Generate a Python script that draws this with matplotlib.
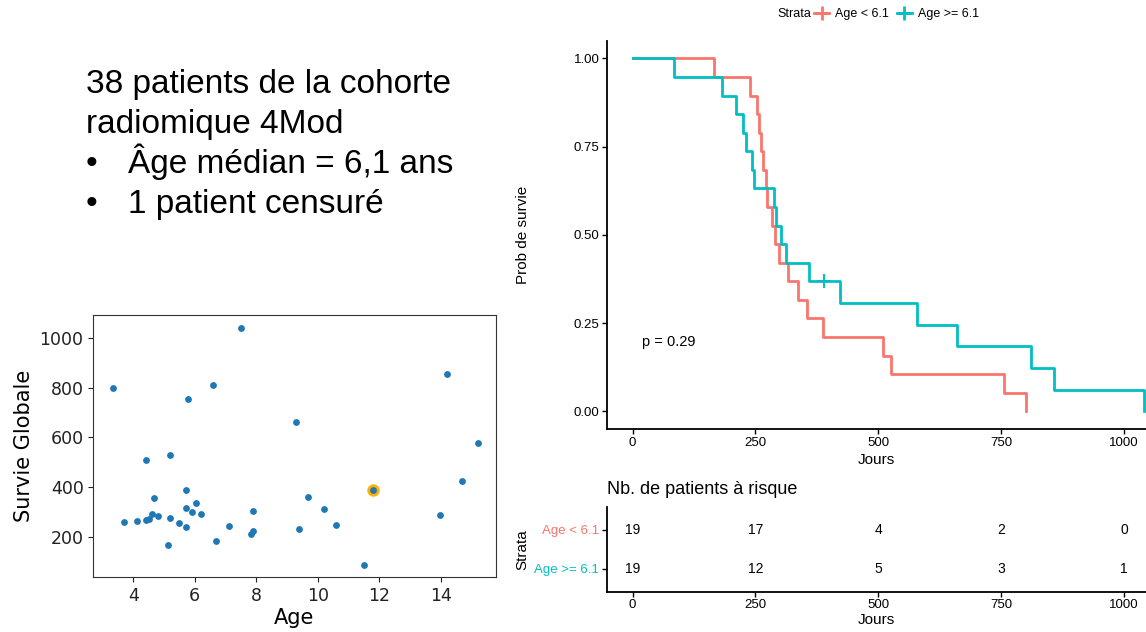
import numpy as np
import matplotlib.pyplot as plt
from matplotlib.lines import Line2D

# ---------------- data ----------------
age = [3.33, 3.71, 4.11, 4.40, 4.41, 4.50, 4.61, 4.69, 4.81, 5.12,
       5.19, 5.19, 5.50, 5.70, 5.70, 5.70, 5.79, 5.90, 6.03,
       6.21, 6.60, 6.68, 7.11, 7.50, 7.82, 7.89, 7.89, 9.29, 9.38,
       9.69, 10.19, 10.59, 11.49, 11.81, 13.99, 14.20, 14.69, 15.20]
survie = [800, 258, 262, 265, 510, 271, 289, 356, 283, 166,
          527, 273, 254, 388, 317, 239, 755, 298, 336,
          291, 810, 182, 243, 1040, 211, 224, 303, 660, 230,
          360, 313, 248, 84, 389, 287, 857, 422, 578]
# 1 = deces, 0 = censure
event = [1] * 33 + [0] + [1] * 4

age_median = 6.1
risk_times = [0, 250, 500, 750, 1000]
risk_low = [19, 17, 4, 2, 0]
risk_high = [19, 12, 5, 3, 1]
pval_label = "p = 0.29"

intro_lines = ["38 patients de la cohorte", "radiomique 4Mod"]
bullets = ["Âge médian = 6,1 ans", "1 patient censuré"]

RED = '#F8766D'
TEAL = '#00BFC4'
SANS = ['Liberation Sans', 'DejaVu Sans']

age = np.array(age)
survie = np.array(survie)
event = np.array(event)


def kaplan_meier(t, e):
    order = np.argsort(t, kind='stable')
    t, e = t[order], e[order]
    n = len(t)
    xs, ys = [0.0], [1.0]
    s = 1.0
    cens_x, cens_y = [], []
    for i, (ti, ei) in enumerate(zip(t, e)):
        at_risk = n - i
        if ei:
            s *= (at_risk - 1) / at_risk
            xs.append(ti)
            ys.append(s)
        else:
            cens_x.append(ti)
            cens_y.append(s)
    return xs, ys, cens_x, cens_y


W, H = 1146, 632
fig = plt.figure(figsize=(W / 100, H / 100), dpi=100)

# ---------------- slide text ----------------
base = [93, 133, 173, 213]
for i, line in enumerate(intro_lines):
    fig.text(86 / W, 1 - base[i] / H, line, fontsize=24, family=SANS, va='baseline')
for j, line in enumerate(bullets):
    y = 1 - base[2 + j] / H
    fig.text(86 / W, y, "•", fontsize=24, family=SANS, va='baseline')
    fig.text(128 / W, y, line, fontsize=24, family=SANS, va='baseline')

# ---------------- scatter ----------------
ax_sc = fig.add_axes([93.3 / W, 1 - 577 / H, (495.7 - 93.3) / W, (577 - 315.3) / H])
cens = event == 0
ax_sc.scatter(age[cens], survie[cens], s=80, color='#FFB000', zorder=2, linewidths=0)
ax_sc.scatter(age, survie, s=24, color='#1f77b4', zorder=3, linewidths=0)
ax_sc.set_xlim(2.70, 15.79)
ax_sc.set_ylim(37, 1092)
ax_sc.set_xticks([4, 6, 8, 10, 12, 14])
ax_sc.set_yticks([200, 400, 600, 800, 1000])
ax_sc.tick_params(labelsize=12.5, colors='#222222')
ax_sc.set_xlabel("Age", fontsize=15, labelpad=2)
ax_sc.set_ylabel("Survie Globale", fontsize=15, labelpad=4)
for sp in ax_sc.spines.values():
    sp.set_color('#333333')

# ---------------- Kaplan-Meier ----------------
low = age < age_median
ax_km = fig.add_axes([607 / W, 1 - 429 / H, (W - 607) / W, (429 - 40.7) / H])
for mask, col in [(low, RED), (~low, TEAL)]:
    xs, ys, cx, cy = kaplan_meier(survie[mask], event[mask])
    ax_km.step(xs, ys, where='post', color=col, lw=2, zorder=3)
    if cx:
        ax_km.plot(cx, cy, ls='none', marker='+', ms=10, mew=1.4, color=col, zorder=4)

ax_km.set_xlim(-52, 1045)
ax_km.set_ylim(-0.05, 1.05)
ax_km.set_xticks(risk_times)
ax_km.set_yticks([0, 0.25, 0.5, 0.75, 1.0])
ax_km.set_yticklabels(["0.00", "0.25", "0.50", "0.75", "1.00"])
ax_km.text(20, 0.197, pval_label, fontsize=10.5, family=SANS, va='center', ha='left')
ax_km.set_xlabel("Jours", fontsize=11, family=SANS, labelpad=3)
ax_km.set_ylabel("Prob de survie", fontsize=11, family=SANS)
ax_km.yaxis.set_label_coords(-77 / (W - 607), 0.5)
for sp in ['top', 'right']:
    ax_km.spines[sp].set_visible(False)
for sp in ['left', 'bottom']:
    ax_km.spines[sp].set_linewidth(1.3)
ax_km.tick_params(labelsize=9.5, length=3.5, width=1, pad=2)
for lab in ax_km.get_xticklabels() + ax_km.get_yticklabels():
    lab.set_family(SANS)

# legend on top
fig.text(777 / W, 1 - 14 / H, "Strata", fontsize=9, family=SANS, va='center', ha='left')
handles = [Line2D([], [], color=RED, lw=2, marker='+', ms=10, mew=2),
           Line2D([], [], color=TEAL, lw=2, marker='+', ms=10, mew=2)]
fig.legend(handles, ["Age < 6.1", "Age >= 6.1"], loc='center left',
           bbox_to_anchor=(814 / W, 1 - 14 / H), ncol=2, frameon=False,
           prop={'family': SANS, 'size': 9}, handlelength=1.2,
           handletextpad=0.5, columnspacing=0.6, borderpad=0, borderaxespad=0)

# ---------------- risk table ----------------
ax_tab = fig.add_axes([607 / W, 1 - 591.7 / H, (W - 607) / W, (591.7 - 506.7) / H])
ax_tab.set_xlim(-52, 1045)
ax_tab.set_ylim(0.4, 2.6)
for t, a, b in zip(risk_times, risk_low, risk_high):
    ax_tab.text(t, 2, str(a), ha='center', va='center', fontsize=10, family=SANS)
    ax_tab.text(t, 1, str(b), ha='center', va='center', fontsize=10, family=SANS)
ax_tab.set_xticks(risk_times)
ax_tab.set_yticks([2, 1])
ax_tab.set_yticklabels(["Age < 6.1", "Age >= 6.1"])
for lab, col in zip(ax_tab.get_yticklabels(), [RED, TEAL]):
    lab.set_color(col)
for lab in ax_tab.get_xticklabels() + ax_tab.get_yticklabels():
    lab.set_family(SANS)
ax_tab.tick_params(labelsize=9.5, length=3.5, width=1, pad=2)
for sp in ['top', 'right']:
    ax_tab.spines[sp].set_visible(False)
for sp in ['left', 'bottom']:
    ax_tab.spines[sp].set_linewidth(1.3)
ax_tab.set_xlabel("Jours", fontsize=11, family=SANS, labelpad=1)
ax_tab.set_ylabel("Strata", fontsize=11, family=SANS)
ax_tab.yaxis.set_label_coords(-78 / (W - 607), 0.5)
ax_tab.set_title("Nb. de patients à risque", loc='left', fontsize=13, family=SANS, pad=9)

fig.savefig("out.png", dpi=100)
